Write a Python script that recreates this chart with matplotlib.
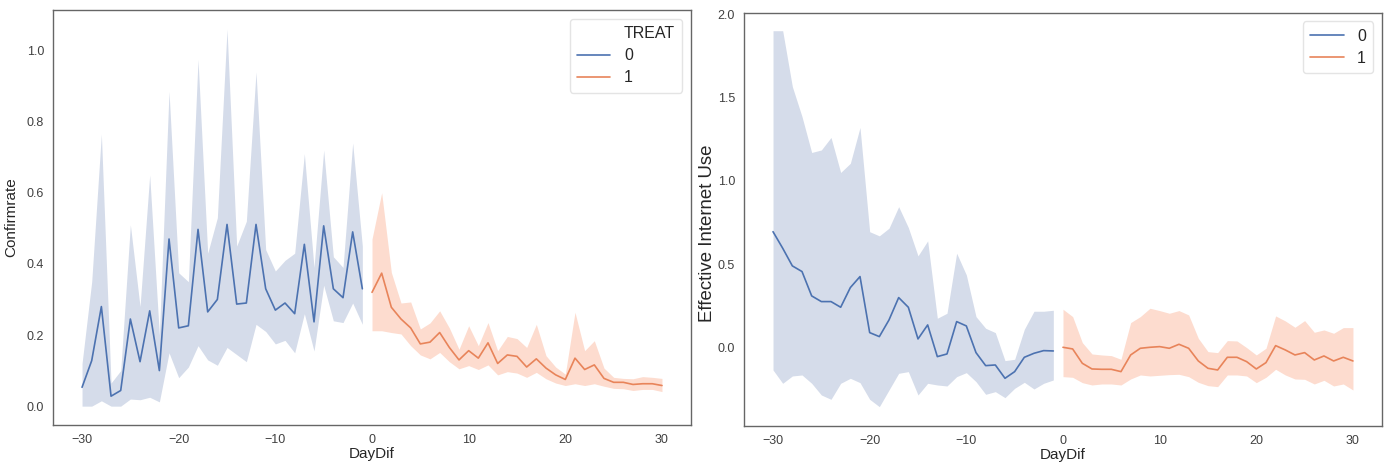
import numpy as np
import matplotlib
matplotlib.use("Agg")
import matplotlib.pyplot as plt
from matplotlib.lines import Line2D
import seaborn as sns

# ---- data ----
days_pre = np.arange(-30, 0)
days_post = np.arange(0, 31)

# left panel: Confirmrate
conf_mean_0 = [0.053, 0.128, 0.28, 0.028, 0.044, 0.245, 0.125, 0.268, 0.10, 0.47,
               0.22, 0.226, 0.497, 0.265, 0.30, 0.511, 0.287, 0.29, 0.511, 0.33,
               0.27, 0.29, 0.26, 0.455, 0.237, 0.507, 0.33, 0.305, 0.49, 0.33]
conf_hi_0 = [0.12, 0.35, 0.765, 0.065, 0.10, 0.51, 0.28, 0.65, 0.20, 0.885,
             0.375, 0.35, 0.975, 0.43, 0.53, 1.06, 0.45, 0.52, 0.94, 0.44,
             0.38, 0.41, 0.43, 0.71, 0.39, 0.72, 0.42, 0.39, 0.74, 0.45]
conf_lo_0 = [0.0, 0.0, 0.015, 0.0, 0.0, 0.02, 0.018, 0.025, 0.012, 0.15,
             0.08, 0.11, 0.17, 0.13, 0.115, 0.165, 0.145, 0.125, 0.23, 0.21,
             0.175, 0.185, 0.15, 0.26, 0.155, 0.34, 0.24, 0.235, 0.29, 0.23]
conf_mean_1 = [0.32, 0.374, 0.278, 0.245, 0.22, 0.175, 0.18, 0.207, 0.165, 0.13,
               0.156, 0.135, 0.178, 0.12, 0.144, 0.14, 0.11, 0.133, 0.107, 0.088,
               0.075, 0.135, 0.103, 0.116, 0.078, 0.067, 0.067, 0.061, 0.063, 0.063, 0.058]
conf_hi_1 = [0.47, 0.60, 0.376, 0.29, 0.293, 0.217, 0.234, 0.268, 0.22, 0.16,
             0.226, 0.17, 0.235, 0.156, 0.196, 0.19, 0.165, 0.23, 0.142, 0.11,
             0.09, 0.264, 0.156, 0.184, 0.107, 0.081, 0.078, 0.077, 0.083, 0.081, 0.078]
conf_lo_1 = [0.212, 0.212, 0.207, 0.203, 0.17, 0.144, 0.133, 0.151, 0.125, 0.105,
             0.114, 0.103, 0.116, 0.088, 0.097, 0.093, 0.081, 0.095, 0.077, 0.065,
             0.058, 0.063, 0.058, 0.063, 0.056, 0.05, 0.049, 0.044, 0.047, 0.047, 0.041]

# right panel: Effective Internet Use
eiu_mean_0 = [0.695, 0.596, 0.49, 0.456, 0.31, 0.276, 0.276, 0.242, 0.36, 0.426,
              0.09, 0.066, 0.166, 0.30, 0.242, 0.052, 0.136, -0.054, -0.038, 0.156,
              0.13, -0.03, -0.108, -0.104, -0.184, -0.144, -0.058, -0.034, -0.018, -0.02]
eiu_hi_0 = [1.90, 1.90, 1.565, 1.385, 1.17, 1.185, 1.26, 1.05, 1.105, 1.32,
            0.695, 0.67, 0.716, 0.845, 0.72, 0.55, 0.64, 0.176, 0.206, 0.566,
            0.436, 0.186, 0.116, 0.09, -0.078, -0.07, 0.11, 0.218, 0.218, 0.224]
eiu_lo_0 = [-0.134, -0.214, -0.17, -0.164, -0.214, -0.284, -0.31, -0.214, -0.184, -0.21,
            -0.31, -0.354, -0.254, -0.154, -0.144, -0.284, -0.214, -0.224, -0.23, -0.174,
            -0.15, -0.204, -0.28, -0.264, -0.30, -0.244, -0.208, -0.248, -0.214, -0.194]
eiu_mean_1 = [0.002, -0.008, -0.094, -0.128, -0.13, -0.13, -0.144, -0.044, -0.004, 0.002,
              0.006, -0.004, 0.02, -0.004, -0.08, -0.124, -0.134, -0.058, -0.058, -0.084,
              -0.128, -0.09, 0.012, -0.014, -0.044, -0.03, -0.074, -0.05, -0.08, -0.058, -0.08]
eiu_hi_1 = [0.23, 0.186, 0.03, -0.038, -0.044, -0.048, -0.07, 0.15, 0.186, 0.236,
            0.222, 0.206, 0.222, 0.196, 0.056, -0.024, -0.03, 0.042, 0.04, 0.0,
            -0.044, -0.004, 0.19, 0.16, 0.122, 0.162, 0.092, 0.106, 0.086, 0.12, 0.12]
eiu_lo_1 = [-0.174, -0.178, -0.21, -0.224, -0.218, -0.218, -0.224, -0.188, -0.164, -0.17,
            -0.166, -0.162, -0.16, -0.174, -0.208, -0.228, -0.234, -0.164, -0.164, -0.17,
            -0.21, -0.178, -0.13, -0.164, -0.188, -0.19, -0.218, -0.196, -0.23, -0.218, -0.254]

sns.set_style("white")
plt.rcParams['font.family'] = ['Liberation Sans', 'DejaVu Sans']

blue = '#4c72b0'
orange = '#e8845a'
blue_band = '#d5dcea'
orange_band = '#fddccf'

fig = plt.figure(figsize=(13.85, 4.62), dpi=100)
ax1 = fig.add_axes([0.0383, 0.0801, 0.4606, 0.8983])
ax2 = fig.add_axes([0.5372, 0.0779, 0.4606, 0.8946])


def draw(ax, m0, lo0, hi0, m1, lo1, hi1):
    ax.fill_between(days_pre, lo0, hi0, color=blue_band, linewidth=0)
    ax.plot(days_pre, m0, color=blue, lw=1.2, label="0")
    ax.fill_between(days_post, lo1, hi1, color=orange_band, linewidth=0)
    ax.plot(days_post, m1, color=orange, lw=1.2, label="1")
    ax.set_xlim(-33, 33)
    ax.set_xticks([-30, -20, -10, 0, 10, 20, 30])
    ax.tick_params(labelsize=9, colors='0.25', pad=3)
    for s in ax.spines.values():
        s.set_color('0.4')
        s.set_linewidth(1.0)


def legend(ax, handles, labels):
    leg = ax.legend(handles, labels, loc='upper right', fontsize=11.5, frameon=True,
                    borderaxespad=0.55, handlelength=2.1, handletextpad=0.85,
                    labelspacing=0.45, borderpad=0.45)
    leg.get_frame().set_edgecolor('0.87')
    for t in leg.get_texts():
        t.set_color('0.15')
    for hl in leg.get_lines():
        hl.set_linewidth(1.2)
    return leg


draw(ax1, conf_mean_0, conf_lo_0, conf_hi_0, conf_mean_1, conf_lo_1, conf_hi_1)
ax1.set_ylim(-0.053, 1.114)
ax1.set_yticks([0.0, 0.2, 0.4, 0.6, 0.8, 1.0])
ax1.set_xlabel("DayDif", fontsize=11, color='0.15', labelpad=1)
ax1.set_ylabel("Confirmrate", fontsize=11, color='0.15', labelpad=6)
h, l = ax1.get_legend_handles_labels()
legend(ax1, [Line2D([], [], color='none')] + h, ["TREAT"] + l)

draw(ax2, eiu_mean_0, eiu_lo_0, eiu_hi_0, eiu_mean_1, eiu_lo_1, eiu_hi_1)
ax2.set_ylim(-0.47, 2.008)
ax2.set_yticks([0.0, 0.5, 1.0, 1.5, 2.0])
ax2.set_xlabel("DayDif", fontsize=11, color='0.15', labelpad=1)
ax2.set_ylabel("Effective Internet Use", fontsize=13.4, color='0.15')
ax2.yaxis.set_label_coords(-0.044, 0.467)
h, l = ax2.get_legend_handles_labels()
legend(ax2, h, l)

fig.savefig("out.png", dpi=100)
